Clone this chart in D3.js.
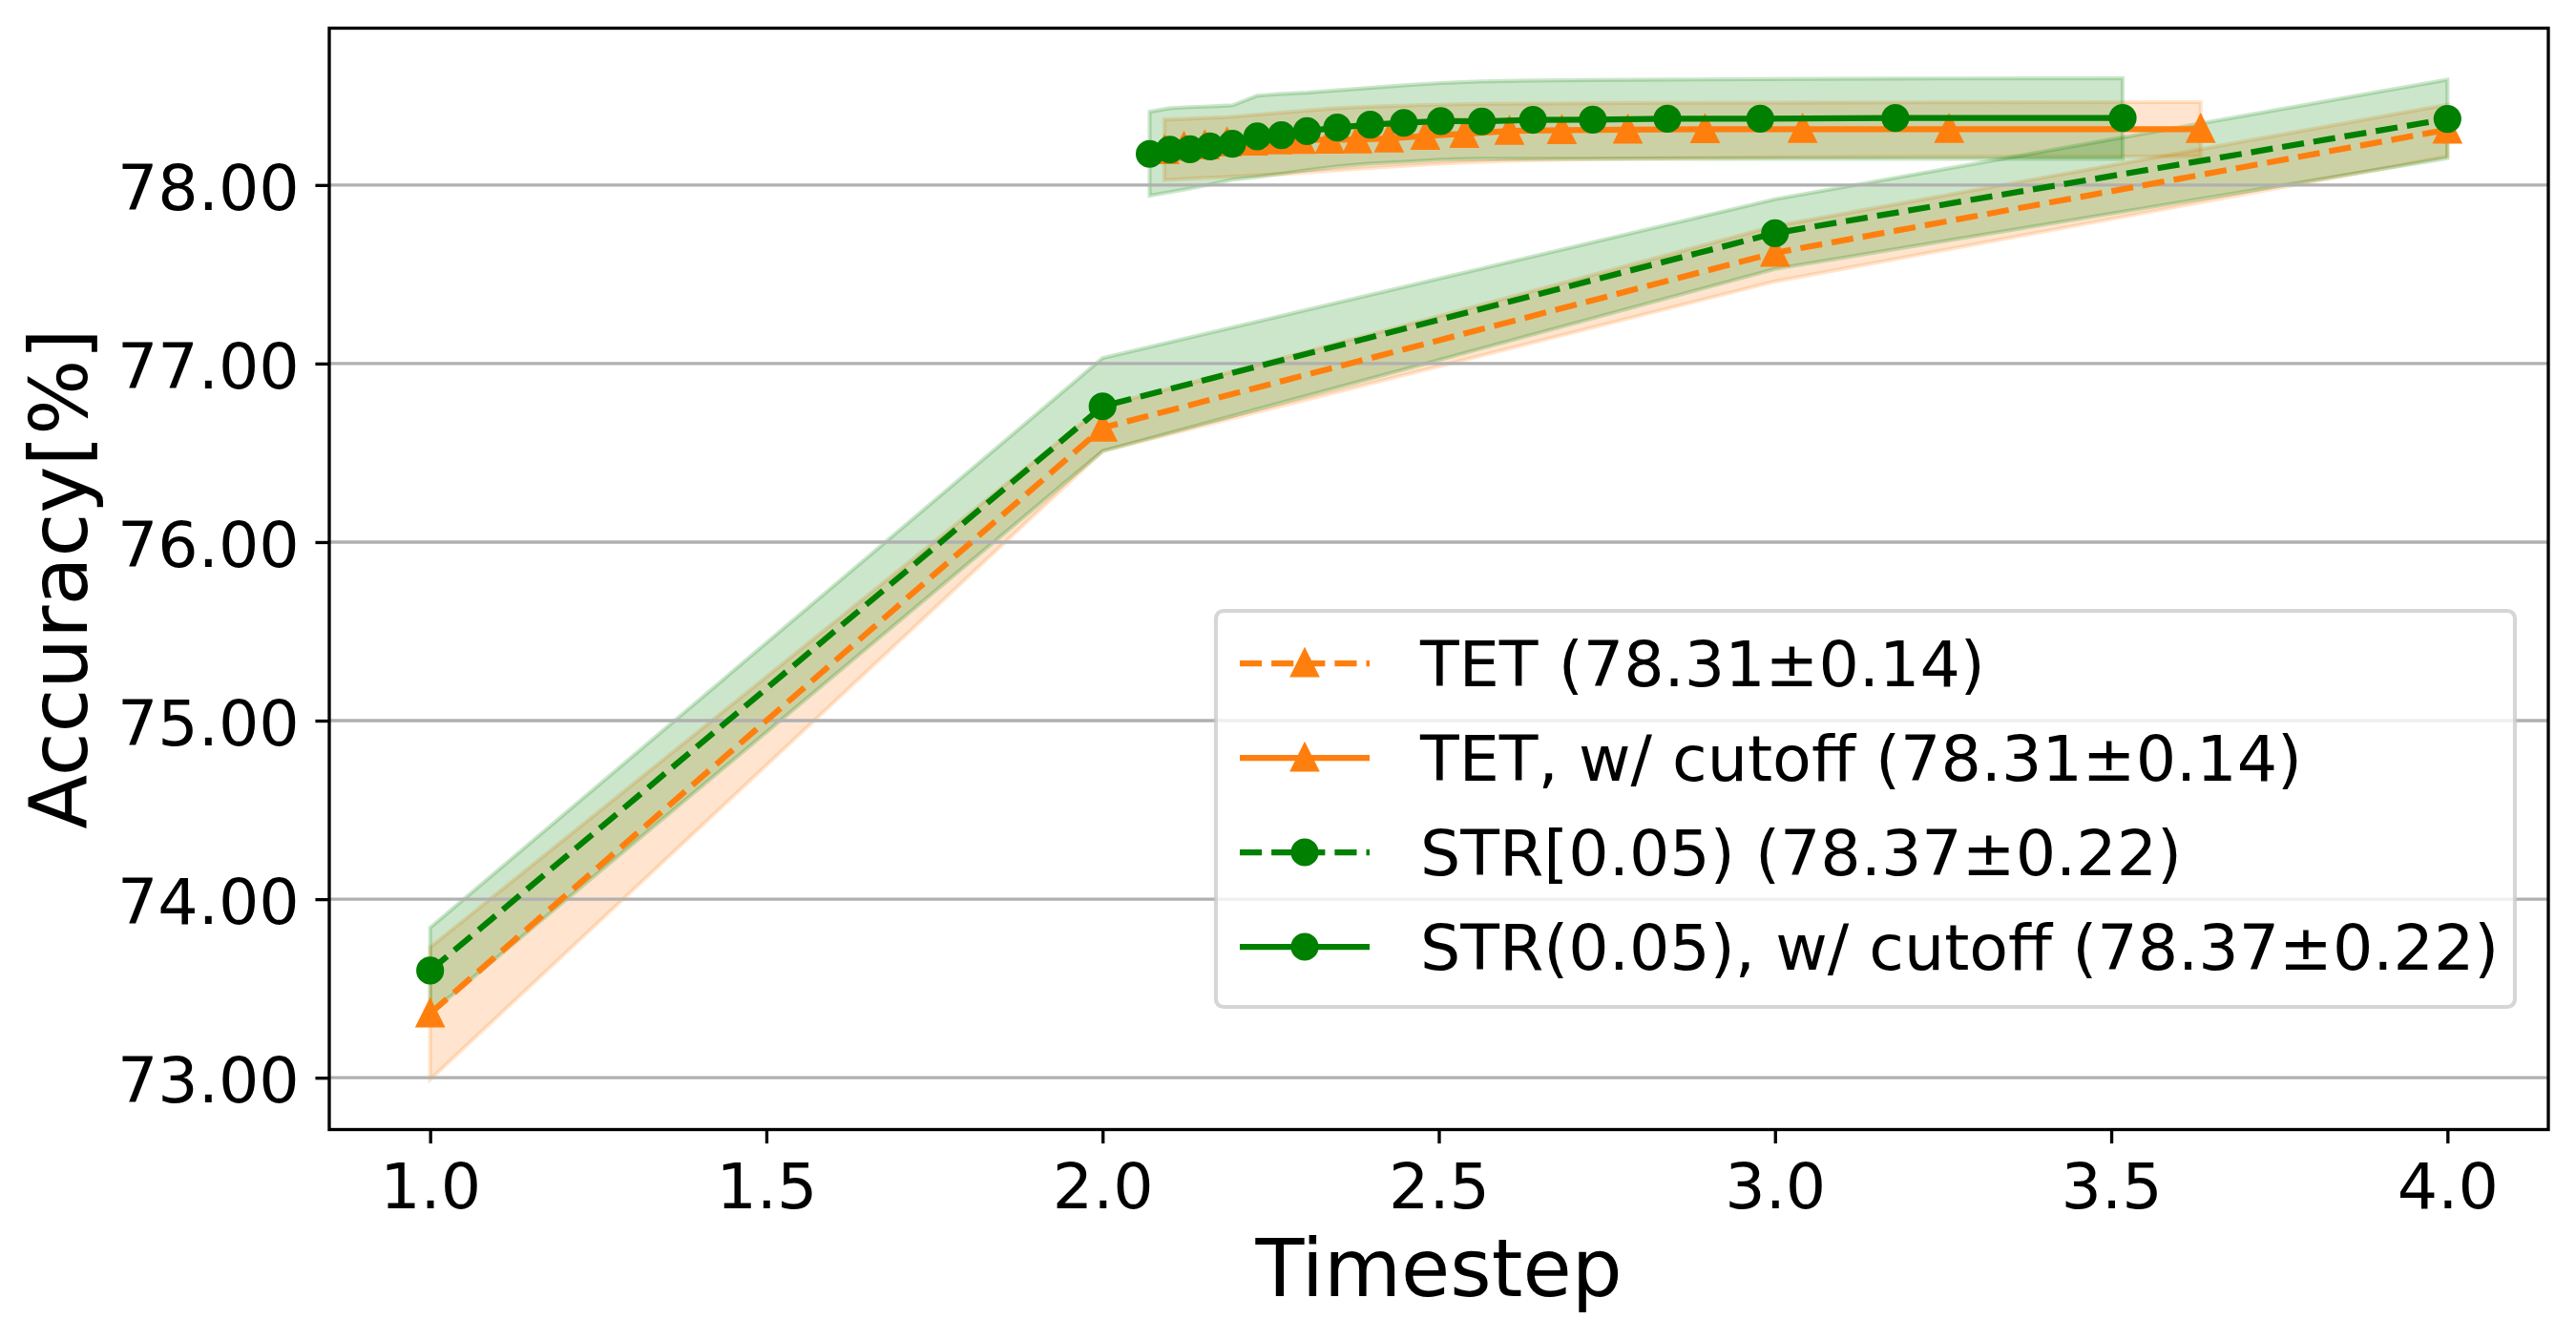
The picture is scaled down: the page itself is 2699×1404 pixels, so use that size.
<!DOCTYPE html>
<html>
<head>
<meta charset="utf-8">
<script src="https://cdn.jsdelivr.net/npm/d3@7"></script>
<style>
  body { margin: 0; background: #fff; }
  svg { display: block; font-family: "DejaVu Sans", sans-serif; }
</style>
</head>
<body>
<svg id="chart-svg" width="2699" height="1404"></svg>
<script>
// plain runs, one point per timestep
const steps = [1, 2, 3, 4];
const tetMean = [73.36, 76.64, 77.62, 78.31];
const tetLow = [72.99, 76.51, 77.46, 78.16];
const tetHigh = [73.73, 76.76, 77.77, 78.45];
const strMean = [73.60, 76.76, 77.73, 78.37];
const strLow = [73.36, 76.51, 77.53, 78.15];
const strHigh = [73.84, 77.03, 77.92, 78.59];

// runs with cutoff (average timestep on x)
const tetCutSteps = [2.092, 2.121, 2.152, 2.185, 2.224, 2.260, 2.295, 2.338, 2.379, 2.426, 2.480, 2.538, 2.605, 2.683, 2.781, 2.896, 3.041, 3.259, 3.633];
const tetCutMean = [78.195, 78.213, 78.222, 78.238, 78.243, 78.249, 78.252, 78.253, 78.255, 78.26, 78.275, 78.286, 78.303, 78.307, 78.31, 78.312, 78.313, 78.313, 78.313];
const tetCutLow = [78.028, 78.034, 78.04, 78.045, 78.053, 78.06, 78.068, 78.079, 78.09, 78.102, 78.114, 78.126, 78.136, 78.143, 78.148, 78.152, 78.156, 78.159, 78.161];
const tetCutHigh = [78.366, 78.37, 78.375, 78.38, 78.392, 78.403, 78.414, 78.427, 78.436, 78.442, 78.448, 78.453, 78.455, 78.457, 78.459, 78.46, 78.461, 78.463, 78.464];

const strCutSteps = [2.070, 2.100, 2.130, 2.160, 2.193, 2.230, 2.266, 2.304, 2.349, 2.398, 2.448, 2.503, 2.564, 2.640, 2.729, 2.840, 2.978, 3.179, 3.517];
const strCutMean = [78.174, 78.198, 78.200, 78.216, 78.231, 78.272, 78.279, 78.302, 78.322, 78.338, 78.348, 78.358, 78.356, 78.365, 78.366, 78.371, 78.371, 78.375, 78.375];
const strCutLow = [77.94, 77.96, 77.98, 78.003, 78.03, 78.045, 78.063, 78.083, 78.104, 78.12, 78.13, 78.142, 78.147, 78.147, 78.147, 78.147, 78.147, 78.147, 78.147];
const strCutHigh = [78.41, 78.43, 78.436, 78.44, 78.446, 78.50, 78.51, 78.517, 78.53, 78.544, 78.558, 78.571, 78.58, 78.585, 78.588, 78.59, 78.593, 78.596, 78.598];

const xTicks = [1.0, 1.5, 2.0, 2.5, 3.0, 3.5, 4.0];
const yTicks = [73, 74, 75, 76, 77, 78];
const legendLabels = [
    "TET (78.31\u00b10.14)",
    "TET, w/ cutoff (78.31\u00b10.14)",
    "STR[0.05) (78.37\u00b10.22)",
    "STR(0.05), w/ cutoff (78.37\u00b10.22)",
];

const ORANGE = "#ff7f0e";
const GREEN = "#008000";
const pt = 300 / 72;

const svg = d3.select("#chart-svg");
const plot = { left: 345, right: 2670, top: 29.5, bottom: 1183.5 };

const allVals = [tetLow, tetHigh, strLow, strHigh, tetCutLow, tetCutHigh, strCutLow, strCutHigh].flat();
const [vMin, vMax] = d3.extent(allVals);
const vPad = (vMax - vMin) * 0.05;
const allX = [steps, tetCutSteps, strCutSteps].flat();
const [sMin, sMax] = d3.extent(allX);
const sPad = (sMax - sMin) * 0.05;

const x = d3.scaleLinear([sMin - sPad, sMax + sPad], [plot.left, plot.right]);
const y = d3.scaleLinear([vMin - vPad, vMax + vPad], [plot.bottom, plot.top]);

const series = [
    { xs: steps, mean: tetMean, low: tetLow, high: tetHigh, color: ORANGE, dashed: true, marker: "tri" },
    { xs: tetCutSteps, mean: tetCutMean, low: tetCutLow, high: tetCutHigh, color: ORANGE, dashed: false, marker: "tri" },
    { xs: steps, mean: strMean, low: strLow, high: strHigh, color: GREEN, dashed: true, marker: "dot" },
    { xs: strCutSteps, mean: strCutMean, low: strCutLow, high: strCutHigh, color: GREEN, dashed: false, marker: "dot" },
];

// std bands first (matplotlib draws collections below lines)
const area = d3.area()
    .x(d => x(d[0]))
    .y0(d => y(d[1]))
    .y1(d => y(d[2]));

svg.append("g").selectAll("path")
    .data(series)
    .enter()
    .append("path")
    .attr("d", s => area(s.xs.map((v, i) => [v, s.low[i], s.high[i]])))
    .attr("fill", s => s.color)
    .attr("fill-opacity", 0.2)
    .attr("stroke", s => s.color)
    .attr("stroke-opacity", 0.2)
    .attr("stroke-width", 1 * pt);

// horizontal grid
svg.append("g").selectAll("line")
    .data(yTicks)
    .enter()
    .append("line")
    .attr("x1", plot.left)
    .attr("x2", plot.right)
    .attr("y1", d => y(d))
    .attr("y2", d => y(d))
    .attr("stroke", "#b0b0b0")
    .attr("stroke-width", 0.8 * pt);

const line = d3.line().x(d => x(d[0])).y(d => y(d[1]));
const triPath = `M0,${-3 * pt} L${3 * pt},${3 * pt} L${-3 * pt},${3 * pt} Z`;

const drawMarker = (g, kind, color) => {
    if (kind === "tri") {
        g.append("path").attr("d", triPath);
    } else {
        g.append("circle").attr("r", 3 * pt);
    }
    g.selectAll("path, circle")
        .attr("fill", color)
        .attr("stroke", color)
        .attr("stroke-width", 1 * pt)
        .attr("stroke-linejoin", "miter");
};

const lines = svg.append("g");
series.forEach(s => {
    const pts = s.xs.map((v, i) => [v, s.mean[i]]);
    lines.append("path")
        .attr("d", line(pts))
        .attr("fill", "none")
        .attr("stroke", s.color)
        .attr("stroke-width", 1.5 * pt)
        .attr("stroke-linejoin", "round")
        .attr("stroke-dasharray", s.dashed ? `${5.55 * pt},${2.4 * pt}` : null);
    pts.forEach(p => {
        const g = lines.append("g").attr("transform", `translate(${x(p[0])},${y(p[1])})`);
        drawMarker(g, s.marker, s.color);
    });
});

// axes
const xAxis = svg.append("g")
    .attr("transform", `translate(0,${plot.bottom})`)
    .call(d3.axisBottom(x).tickValues(xTicks).tickFormat(d3.format(".1f")).tickSize(3.5 * pt).tickPadding(3.5 * pt));
const yAxis = svg.append("g")
    .attr("transform", `translate(${plot.left},0)`)
    .call(d3.axisLeft(y).tickValues(yTicks).tickFormat(d3.format(".2f")).tickSize(3.5 * pt).tickPadding(4 * pt));

[xAxis, yAxis].forEach(a => {
    a.select(".domain").remove();
    a.selectAll(".tick line").attr("stroke", "#000").attr("stroke-width", 0.8 * pt);
    a.selectAll(".tick text")
        .attr("fill", "#000")
        .style("font-size", `${16 * pt}px`)
        .style("font-family", "DejaVu Sans");
});
xAxis.selectAll(".tick text").attr("dy", "0.8em");
yAxis.selectAll(".tick text").attr("dy", "0.38em");

svg.append("rect")
    .attr("x", plot.left)
    .attr("y", plot.top)
    .attr("width", plot.right - plot.left)
    .attr("height", plot.bottom - plot.top)
    .attr("fill", "none")
    .attr("stroke", "#000")
    .attr("stroke-width", 0.8 * pt);

svg.append("text")
    .attr("x", (plot.left + plot.right) / 2)
    .attr("y", 1358)
    .attr("text-anchor", "middle")
    .style("font-size", `${20 * pt}px`)
    .text("Timestep");

svg.append("text")
    .attr("transform", `translate(91,${(plot.top + plot.bottom) / 2}) rotate(-90)`)
    .attr("text-anchor", "middle")
    .style("font-size", `${20 * pt}px`)
    .text("Accuracy[%]");

// legend
const legend = svg.append("g").attr("id", "legend");
legend.append("rect")
    .attr("x", 1274)
    .attr("y", 640)
    .attr("width", 1361)
    .attr("height", 415)
    .attr("rx", 8)
    .attr("fill", "#fff")
    .attr("fill-opacity", 0.8)
    .attr("stroke", "#cccccc")
    .attr("stroke-opacity", 0.8)
    .attr("stroke-width", 1 * pt);

legendLabels.forEach((label, i) => {
    const s = series[i];
    const cy = 695 + i * 99;
    const row = legend.append("g");
    row.append("line")
        .attr("x1", 1299)
        .attr("x2", 1435)
        .attr("y1", cy)
        .attr("y2", cy)
        .attr("stroke", s.color)
        .attr("stroke-width", 1.5 * pt)
        .attr("stroke-dasharray", s.dashed ? `${5.55 * pt},${2.4 * pt}` : null);
    drawMarker(row.append("g").attr("transform", `translate(1367,${cy})`), s.marker, s.color);
    row.append("text")
        .attr("x", 1488)
        .attr("y", cy + 24)
        .style("font-size", `${16 * pt}px`)
        .text(label);
});
</script>
</body>
</html>
